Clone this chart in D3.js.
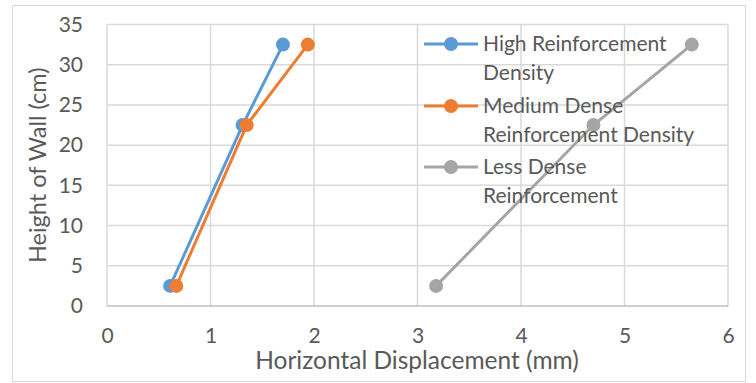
<!DOCTYPE html>
<html>
<head>
<meta charset="utf-8">
<script src="https://cdn.jsdelivr.net/npm/d3@7"></script>
<style>
body { margin: 0; background: #fff; }
text { font-family: Lato, "Open Sans", sans-serif; fill: #595959; }
</style>
</head>
<body>
<div id="chart"></div>
<script>
// data
var seriesNames = ["High Reinforcement Density", "Medium Dense Reinforcement Density", "Less Dense Reinforcement"];
var legendLines = [["High Reinforcement", "Density"], ["Medium Dense", "Reinforcement Density"], ["Less Dense", "Reinforcement"]];
var colors = ["#5b9bd5", "#ed7d31", "#a5a5a5"];
var heights = [2.5, 22.5, 32.5];
var highX = [0.61, 1.31, 1.70];
var mediumX = [0.67, 1.35, 1.94];
var lessX = [3.18, 4.70, 5.65];
var xTicks = [0, 1, 2, 3, 4, 5, 6];
var yTicks = [0, 5, 10, 15, 20, 25, 30, 35];

var W = 756, H = 383;
var margin = {top: 24.5, right: 28, bottom: 77, left: 107};
var width = W - margin.left - margin.right;
var height = H - margin.top - margin.bottom;

var svg = d3.select("#chart").append("svg")
    .attr("width", W)
    .attr("height", H);

svg.append("rect")
    .attr("x", 12.5).attr("y", 5.5)
    .attr("width", 733).attr("height", 376)
    .attr("fill", "#fff")
    .attr("stroke", "#d9d9d9");

var g = svg.append("g").attr("transform", "translate(" + margin.left + "," + margin.top + ")");

var x = d3.scaleLinear().domain([0, 6]).range([0, width]);
var y = d3.scaleLinear().domain([0, 35]).range([height, 0]);

// grid
g.selectAll(".gx").data(xTicks).enter().append("line")
    .attr("x1", function(d){ return x(d); }).attr("x2", function(d){ return x(d); })
    .attr("y1", 0).attr("y2", height)
    .attr("stroke", "#d9d9d9").attr("stroke-width", 1.5);
g.selectAll(".gy").data(yTicks).enter().append("line")
    .attr("x1", 0).attr("x2", width)
    .attr("y1", function(d){ return y(d); }).attr("y2", function(d){ return y(d); })
    .attr("stroke", function(d){ return d == 0 ? "#bfbfbf" : "#d9d9d9"; })
    .attr("stroke-width", 1.5);

// axes
var xAxis = g.append("g")
    .attr("transform", "translate(0," + height + ")")
    .call(d3.axisBottom(x).tickValues(xTicks).tickSize(0).tickPadding(22).tickFormat(d3.format("d")));
var yAxis = g.append("g")
    .call(d3.axisLeft(y).tickValues(yTicks).tickSize(0).tickPadding(24).tickFormat(d3.format("d")));
[xAxis, yAxis].forEach(function(a){
    a.select(".domain").remove();
    a.selectAll("text").attr("font-size", 21).attr("fill", "#595959")
        .style("font-family", "Lato, sans-serif");
});

svg.append("text")
    .attr("x", 417).attr("y", 369)
    .attr("text-anchor", "middle")
    .attr("font-size", 24.5)
    .text("Horizontal Displacement (mm)");
svg.append("text")
    .attr("transform", "translate(46," + (margin.top + height / 2) + ") rotate(-90)")
    .attr("text-anchor", "middle")
    .attr("font-size", 23.5)
    .text("Height of Wall (cm)");

// series
var allX = [highX, mediumX, lessX];
var line = d3.line().x(function(d){ return x(d[0]); }).y(function(d){ return y(d[1]); });
allX.forEach(function(xs, i){
    var pts = xs.map(function(v, j){ return [v, heights[j]]; });
    g.append("path").datum(pts)
        .attr("d", line)
        .attr("fill", "none")
        .attr("stroke", colors[i])
        .attr("stroke-width", 3);
    g.selectAll(".p" + i).data(pts).enter().append("circle")
        .attr("cx", function(d){ return x(d[0]); })
        .attr("cy", function(d){ return y(d[1]); })
        .attr("r", 7)
        .attr("fill", colors[i]);
});

// legend
var leg = svg.append("g").attr("transform", "translate(424,44)");
var rowY = [0, 62, 123];
legendLines.forEach(function(lines, i){
    var r = leg.append("g").attr("transform", "translate(0," + rowY[i] + ")");
    r.append("line").attr("x1", 0).attr("x2", 54).attr("y1", 0).attr("y2", 0)
        .attr("stroke", colors[i]).attr("stroke-width", 3);
    r.append("circle").attr("cx", 27).attr("cy", 0).attr("r", 7).attr("fill", colors[i]);
    lines.forEach(function(t, k){
        r.append("text").attr("x", 59).attr("y", 7 + k * 29)
            .attr("font-size", 21)
            .text(t);
    });
});
</script>
</body>
</html>
